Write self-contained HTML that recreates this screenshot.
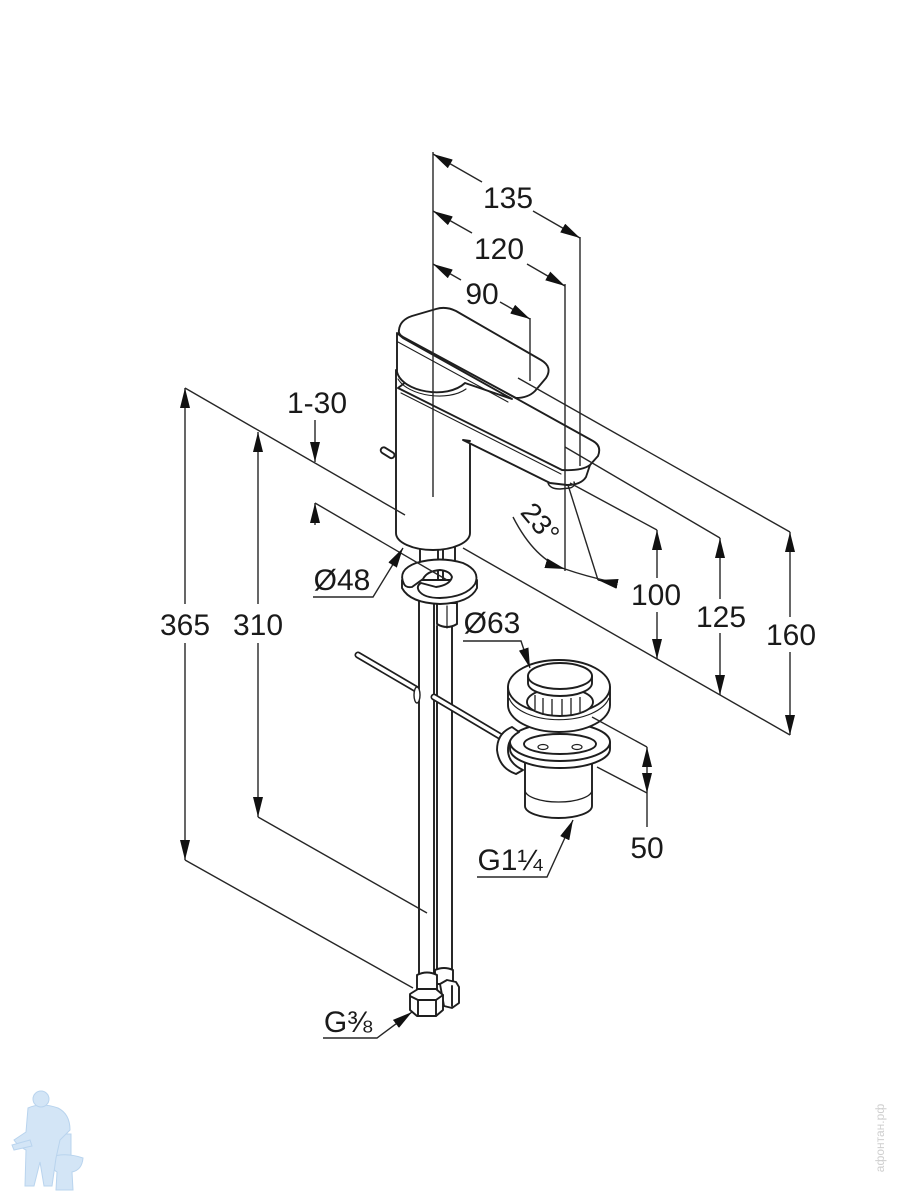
<!DOCTYPE html>
<html><head><meta charset="utf-8">
<style>
html,body{margin:0;padding:0;background:#fff;}
svg{display:block;}
text{font-family:"Liberation Sans","DejaVu Sans",sans-serif;fill:#1a1a1a;}
</style></head><body>
<svg width="900" height="1200" viewBox="0 0 900 1200" xmlns="http://www.w3.org/2000/svg">
<defs>
<marker id="ar" viewBox="0 0 20 10" refX="20" refY="5" markerWidth="20" markerHeight="10" markerUnits="userSpaceOnUse" orient="auto-start-reverse"><path d="M0,0L20,5L0,10z" fill="#111"/></marker>
</defs>
<rect width="900" height="1200" fill="#fff"/>

<!-- ===== FAUCET ===== -->
<g fill="#fff" stroke="#1e1e1e" stroke-width="1.9" stroke-linejoin="round" stroke-linecap="round">
  <!-- tubes -->
  <path d="M437,626 V970 M452,626 V970" fill="none"/>
  <path d="M419,598 V975 M434,598 V975" fill="none"/>
  <!-- right fitting -->
  <path d="M435,970 Q444,966 453,970 V984 H435 Z"/>
  <path d="M440,984 L447,980 L456,982 L459,987 V1003 L452,1008 L444,1006 Z"/>
  <path d="M452,986 V1006" fill="none"/>
  <!-- left fitting -->
  <path d="M417,975 Q427,970 437,975 V990 H417 Z"/>
  <path d="M410,994 L418,989 L436,989 L443,995 V1010 L436,1016 L417,1016 L410,1010 Z"/>
  <path d="M410,996 L418,1000 L436,1000 L443,995 M418,1000 V1016 M436,1000 V1016" fill="none"/>

  <!-- shank -->
  <path d="M420,540 V574 M455,540 V574 M438,548 V580 M443,548 V580" fill="none"/>
  <!-- stud -->
  <path d="M437,603 V624 Q447,630 457,624 V603 Z"/>
  <path d="M447,606 V628" fill="none" stroke-width="1.2"/>
  <!-- washer (C) -->
  <path d="M402,580 V588 Q410,603 440,604 Q470,603 477,588 V580 Z"/>
  <path d="M404,584 Q397,570 416,563 Q440,556 463,563 Q481,571 475,584 Q466,597 440,598 Q424,598 419,591 Q416,586 421,583 L436,587 Q450,585 452,577 Q450,571 440,570 Q427,571 423,579 L412,587 Q406,588 404,584 Z"/>

  <!-- pin -->
  <rect x="380" y="450" width="15" height="6" rx="3" transform="rotate(32 388 453)"/>
  <!-- body -->
  <path d="M396,370 V533 A37,17 0 0 0 470,533 V438 Z"/>

  <!-- spout front face -->
  <path d="M398,388 L562,470 Q582,471 590,465 L586,477 Q581,485 567,485 L550,483 L466,442 L398,442 Z" stroke="none"/>
  <path d="M590,465 L586,477 Q581,485 567,485 L550,483 L463,440 L470,441" fill="none"/>
  <!-- aerator -->
  <path d="M548,483 Q550,489 560,489 L570,488 Q576,486 574,482" fill="none" stroke-width="1.4"/>
  <!-- spout top face -->
  <path d="M398,388 L440,356 L593,441 Q602,446 598,456 L590,465 Q582,471 562,470 Z"/>
  <path d="M401,393 L561,474" fill="none" stroke-width="1.1"/>

  <!-- lever side + cap -->
  <path d="M397,333 V372 C402,392 447,400 465,383 L512,399 L403,338 Z"/>
  <path d="M398,379 C408,396 448,402 466,389" fill="none" stroke-width="1.1"/>
  <!-- lever top -->
  <path d="M399,330 Q400,320 412,316 L436,309 Q446,306 456,311 L541,360 Q553,367 546,378 L535,391 Q528,398 516,398 L403,337 Q398,334 399,330 Z"/>
  <path d="M398,342 L508,402" fill="none" stroke-width="1.1"/>
</g>

<!-- pop-up rod -->
<g stroke-linecap="round" fill="none">
  <path d="M358,655 L416,689" stroke="#1e1e1e" stroke-width="7"/>
  <path d="M358,655 L416,689" stroke="#fff" stroke-width="3.6"/>
  <path d="M434,697 L503,738" stroke="#1e1e1e" stroke-width="7"/>
  <path d="M434,697 L503,738" stroke="#fff" stroke-width="3.6"/>
  <ellipse cx="417" cy="695" rx="3" ry="8" fill="#fff" stroke="#1e1e1e" stroke-width="1.4"/>
</g>

<!-- ===== DRAIN ===== -->
<g fill="#fff" stroke="#1e1e1e" stroke-width="1.9" stroke-linejoin="round">
  <!-- lower body -->
  <path d="M525,760 V806 A33.5,12 0 0 0 592,806 V760 Z"/>
  <path d="M525,790 A33.5,12 0 0 0 592,790" fill="none" stroke-width="1.3"/>
  <!-- ring -->
  <path d="M510,742 V749 A50,19 0 0 0 610,749 V742 Z"/>
  <ellipse cx="560" cy="742" rx="50" ry="19"/>
  <ellipse cx="560" cy="744" rx="36" ry="10"/>
  <ellipse cx="543" cy="747" rx="5" ry="2.5" stroke-width="1.2"/>
  <ellipse cx="577" cy="747" rx="5" ry="2.5" stroke-width="1.2"/>
  <!-- clip -->
  <path d="M512,727 Q497,733 497,750 Q499,768 516,774 L523,770 Q508,763 508,750 Q508,738 519,732 Z"/>
  <!-- flange -->
  <path d="M508,687 V705 A51,27 0 0 0 610,705 V687 Z"/>
  <path d="M509,698 A51,27 0 0 0 609,698" fill="none" stroke-width="1.1"/>
  <ellipse cx="559" cy="687" rx="51" ry="27"/>
  <!-- basket -->
  <ellipse cx="560" cy="702" rx="33" ry="14"/>
  <path d="M543,698 V715 M552,699 V716 M562,699 V716 M571,698 V715 M580,697 V712 M535,695 V710" fill="none" stroke-width="1.3"/>
  <!-- cap -->
  <path d="M528,676 V683 A32,13 0 0 0 592,683 V676 Z"/>
  <ellipse cx="560" cy="676" rx="32" ry="13"/>
</g>

<!-- ===== DIMENSION LINES ===== -->
<g fill="none" stroke="#262626" stroke-width="1.4">
  <!-- top vertical extensions -->
  <path d="M433,152 V497"/>
  <path d="M580,237 V466"/>
  <path d="M565,284 V571"/>
  <path d="M530,318 V381"/>
  <!-- 135 / 120 / 90 -->
  <path d="M433,154 L482,182" marker-start="url(#ar)"/>
  <path d="M533,211 L580,238" marker-end="url(#ar)"/>
  <path d="M433,211 L472,233" marker-start="url(#ar)"/>
  <path d="M527,264 L565,286" marker-end="url(#ar)"/>
  <path d="M433,264 L461,280" marker-start="url(#ar)"/>
  <path d="M500,302 L530,319" marker-end="url(#ar)"/>

  <!-- left: 365 / 310 -->
  <path d="M185,388 V604" marker-start="url(#ar)"/>
  <path d="M185,643 V860" marker-end="url(#ar)"/>
  <path d="M185,388 L405,515"/>
  <path d="M185,860 L413,988"/>
  <path d="M258,432 V604" marker-start="url(#ar)"/>
  <path d="M258,643 V817" marker-end="url(#ar)"/>
  <path d="M258,817 L427,913"/>
  <!-- 1-30 -->
  <path d="M315,420 V462" marker-end="url(#ar)"/>
  <path d="M315,525 V503" marker-end="url(#ar)"/>
  <path d="M315,503 L447,580"/>
  <!-- Ø48 -->
  <path d="M313,597 H373 L403,548" marker-end="url(#ar)"/>

  <!-- right: extensions -->
  <path d="M518,378 L790,532"/>
  <path d="M565,447 L720,538"/>
  <path d="M570,483 L657,530"/>
  <path d="M463,548 L790,735"/>
  <!-- 100 -->
  <path d="M657,530 V578" marker-start="url(#ar)"/>
  <path d="M657,612 V659" marker-end="url(#ar)"/>
  <!-- 125 -->
  <path d="M720,538 V599" marker-start="url(#ar)"/>
  <path d="M720,633 V695" marker-end="url(#ar)"/>
  <!-- 160 -->
  <path d="M790,532 V617" marker-start="url(#ar)"/>
  <path d="M790,652 V735" marker-end="url(#ar)"/>

  <!-- 23 deg -->
  <path d="M568,485 L598,580"/>
  <path d="M513,517 Q535,560 565,569" marker-end="url(#ar)"/>
  <path d="M565,569 Q585,576 612,582"/>
  <path d="M616,583 Q608,582 598,580" marker-end="url(#ar)"/>

  <!-- Ø63 -->
  <path d="M463,641 H521 L530,668" marker-end="url(#ar)"/>
  <!-- 50 -->
  <path d="M592,717 L647,747"/>
  <path d="M597,767 L647,793"/>
  <path d="M647,770 V747" marker-end="url(#ar)"/>
  <path d="M647,770 V793" marker-end="url(#ar)"/>
  <path d="M647,793 V827"/>
  <!-- G1 1/4 -->
  <path d="M477,877 H547 L573,820" marker-end="url(#ar)"/>
  <!-- G3/8 -->
  <path d="M323,1038 H377 L412,1012" marker-end="url(#ar)"/>
</g>

<!-- ===== LABELS ===== -->
<g font-size="30" text-anchor="middle">
  <text x="508" y="208">135</text>
  <text x="499" y="259">120</text>
  <text x="482" y="304">90</text>
  <text x="317" y="413">1-30</text>
  <text x="185" y="635">365</text>
  <text x="258" y="635">310</text>
  <text x="342" y="590">Ø48</text>
  <text x="656" y="605">100</text>
  <text x="721" y="627">125</text>
  <text x="791" y="645">160</text>
  <text x="492" y="633">Ø63</text>
  <text x="647" y="858">50</text>
  <text x="510" y="870">G1¼</text>
  <text x="348" y="1032">G⅜</text>
  <text x="533" y="529" font-size="28" transform="rotate(50 533 529)">23°</text>
</g>

<!-- ===== LOGO (bottom-left) ===== -->
<g fill="#d3e5f6" stroke="#b9d4ee" stroke-width="1">
  <path d="M55,1134 H71 V1157 H55 Z"/>
  <path d="M50,1157 Q66,1152 83,1158 Q82,1170 72,1172 L73,1190 H56 L57,1172 Q50,1168 50,1157 Z"/>
  <path d="M28,1108 Q41,1102 58,1108 Q70,1114 70,1130 L60,1140 L56,1158 L52,1186 L44,1186 L40,1162 L34,1186 L25,1186 L26,1150 Q18,1146 14,1140 L26,1132 Z"/>
  <circle cx="41" cy="1099" r="8"/>
  <path d="M12,1145 L30,1140 L32,1146 L14,1150 Z"/>
</g>
<!-- watermark -->
<text x="884" y="1138" font-size="12" text-anchor="middle" transform="rotate(-90 884 1138)" style="fill:#cfcfcf">афонтан.рф</text>
</svg>
</body></html>
